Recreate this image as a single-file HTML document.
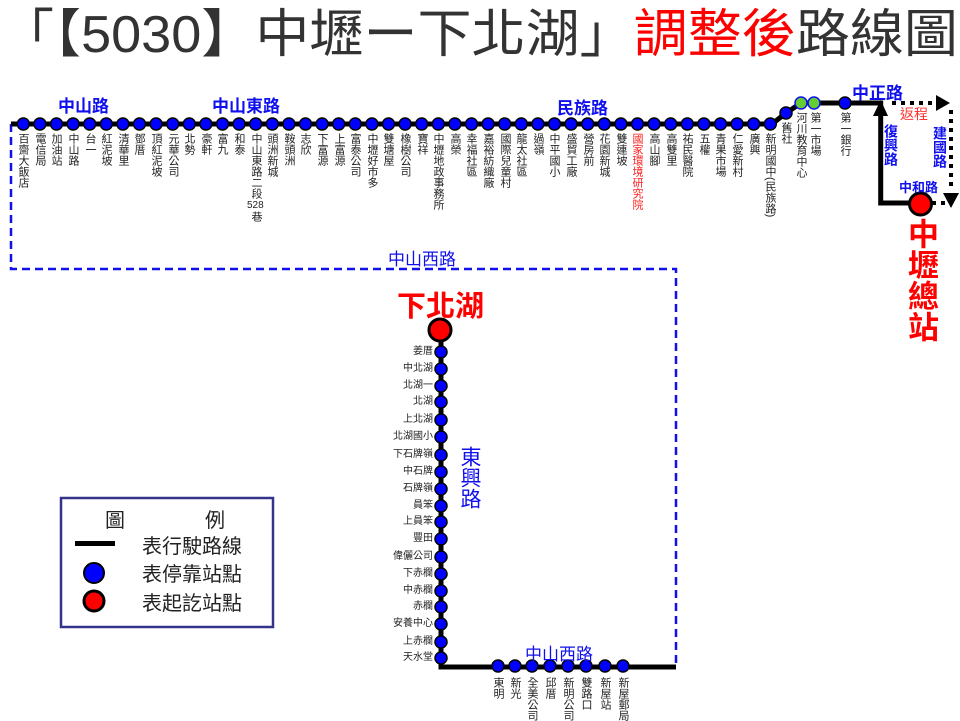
<!DOCTYPE html>
<html><head><meta charset="utf-8"><style>
body{margin:0;width:960px;height:720px;background:#fff;position:relative;overflow:hidden;font-family:"Liberation Sans","Noto Sans CJK TC",sans-serif}
svg{position:absolute;left:0;top:0}
.v{position:absolute;writing-mode:vertical-rl;font-size:11px;line-height:12px;width:12px;color:#222;top:133px;white-space:nowrap}
.r{color:#ff2020}
.h{position:absolute;font-size:10px;color:#222;right:527px;line-height:12px;white-space:nowrap}
.b{position:absolute;color:#1010ee;font-weight:bold;white-space:nowrap}
</style></head><body>
<svg width="960" height="720">
<text x="0" y="52" font-size="52" fill="#333" textLength="958" lengthAdjust="spacingAndGlyphs" font-family="Liberation Sans, Noto Sans CJK TC, sans-serif">「【5030】中壢ー下北湖」<tspan fill="#f00">調整後</tspan>路線圖</text>
<g stroke="#1010ee" stroke-width="2.5" stroke-dasharray="8,5" fill="none">
<path d="M11 124 V269 H676 V667"/>
</g>
<g stroke="#000" stroke-width="5" fill="none">
<path d="M11 124 H772 L786 113 L801 103 H880.7 V203 H920"/>
<path d="M441 330 V667 H676"/>
</g>
<polygon points="880.7,100 873,116 888,116" fill="#000"/>
<g stroke="#000" stroke-width="4" stroke-dasharray="4,5" fill="none">
<path d="M892 103 H940"/><path d="M951 110 V190"/><path d="M932 203 H950"/>
</g>
<polygon points="950,103 936,95 936,111" fill="#000"/>
<polygon points="951,208 943,193 959,193" fill="#000"/>
<g fill="#0000ff" stroke="#000" stroke-width="1.5">
<circle cx="23.3" cy="124" r="6"/><circle cx="39.9" cy="124" r="6"/><circle cx="56.5" cy="124" r="6"/><circle cx="73.1" cy="124" r="6"/><circle cx="89.7" cy="124" r="6"/><circle cx="106.3" cy="124" r="6"/><circle cx="122.9" cy="124" r="6"/><circle cx="139.5" cy="124" r="6"/><circle cx="156.1" cy="124" r="6"/><circle cx="172.7" cy="124" r="6"/><circle cx="189.3" cy="124" r="6"/><circle cx="205.9" cy="124" r="6"/><circle cx="222.5" cy="124" r="6"/><circle cx="239.1" cy="124" r="6"/><circle cx="255.7" cy="124" r="6"/><circle cx="272.3" cy="124" r="6"/><circle cx="288.9" cy="124" r="6"/><circle cx="305.5" cy="124" r="6"/><circle cx="322.1" cy="124" r="6"/><circle cx="338.7" cy="124" r="6"/><circle cx="355.3" cy="124" r="6"/><circle cx="371.9" cy="124" r="6"/><circle cx="388.5" cy="124" r="6"/><circle cx="405.1" cy="124" r="6"/><circle cx="421.7" cy="124" r="6"/><circle cx="438.3" cy="124" r="6"/><circle cx="454.9" cy="124" r="6"/><circle cx="471.5" cy="124" r="6"/><circle cx="488.1" cy="124" r="6"/><circle cx="504.7" cy="124" r="6"/><circle cx="521.3" cy="124" r="6"/><circle cx="537.9" cy="124" r="6"/><circle cx="554.5" cy="124" r="6"/><circle cx="571.1" cy="124" r="6"/><circle cx="587.7" cy="124" r="6"/><circle cx="604.3" cy="124" r="6"/><circle cx="620.9" cy="124" r="6"/><circle cx="637.5" cy="124" r="6"/><circle cx="654.1" cy="124" r="6"/><circle cx="670.7" cy="124" r="6"/><circle cx="687.3" cy="124" r="6"/><circle cx="703.9" cy="124" r="6"/><circle cx="720.5" cy="124" r="6"/><circle cx="737.1" cy="124" r="6"/><circle cx="753.7" cy="124" r="6"/><circle cx="770.3" cy="124" r="6"/>
<circle cx="786" cy="113" r="6"/><circle cx="845" cy="103" r="6"/>
<circle cx="441" cy="352" r="6"/><circle cx="441" cy="369" r="6"/><circle cx="441" cy="386" r="6"/><circle cx="441" cy="402" r="6"/><circle cx="441" cy="420" r="6"/><circle cx="441" cy="437" r="6"/><circle cx="441" cy="455" r="6"/><circle cx="441" cy="472" r="6"/><circle cx="441" cy="489" r="6"/><circle cx="441" cy="506" r="6"/><circle cx="441" cy="522" r="6"/><circle cx="441" cy="539" r="6"/><circle cx="441" cy="557" r="6"/><circle cx="441" cy="574" r="6"/><circle cx="441" cy="591" r="6"/><circle cx="441" cy="607" r="6"/><circle cx="441" cy="624" r="6"/><circle cx="441" cy="642" r="6"/><circle cx="441" cy="658" r="6"/>
<circle cx="498" cy="666" r="6"/><circle cx="515" cy="666" r="6"/><circle cx="532" cy="666" r="6"/><circle cx="550" cy="666" r="6"/><circle cx="568" cy="666" r="6"/><circle cx="586" cy="666" r="6"/><circle cx="605" cy="666" r="6"/><circle cx="623" cy="666" r="6"/>
</g>
<g fill="#6c3" stroke="#1010ee" stroke-width="1.5"><circle cx="801" cy="103" r="6"/><circle cx="814" cy="103" r="6"/></g>
<g fill="#f00" stroke="#000" stroke-width="3"><circle cx="920.5" cy="204" r="11"/><circle cx="440" cy="330" r="11"/></g>
<rect x="61" y="498" width="212" height="129" fill="none" stroke="#33338a" stroke-width="2.5"/>
<rect x="75" y="541" width="40" height="5" fill="#000"/>
<circle cx="94" cy="573" r="10" fill="#0000ff" stroke="#000" stroke-width="2"/>
<circle cx="94" cy="601" r="10" fill="#f00" stroke="#000" stroke-width="3"/>
<g font-size="20" fill="#222" font-family="Liberation Sans, Noto Sans CJK TC, sans-serif">
<text x="105" y="527">圖</text><text x="205" y="527">例</text>
<text x="142" y="553">表行駛路線</text><text x="142" y="581">表停靠站點</text><text x="142" y="610">表起訖站點</text>
</g>
</svg>
<div class="b" style="left:58px;top:92px;font-size:17px">中山路</div>
<div class="b" style="left:212px;top:92px;font-size:17px">中山東路</div>
<div class="b" style="left:557px;top:94px;font-size:17px">民族路</div>
<div class="b" style="left:852px;top:79px;font-size:17px">中正路</div>
<div class="b" style="left:388px;top:245px;font-size:17px;font-weight:normal">中山西路</div>
<div class="b" style="left:525px;top:640px;font-size:17px;font-weight:normal">中山西路</div>
<div class="b" style="left:899px;top:177px;font-size:13px">中和路</div>
<div style="position:absolute;left:900px;top:104px;font-size:14px;color:#f33">返程</div>
<div class="b" style="left:883px;top:124px;font-size:14px;writing-mode:vertical-rl;line-height:16px">復興路</div>
<div class="b" style="left:932px;top:126px;font-size:14px;writing-mode:vertical-rl;line-height:16px">建國路</div>
<div class="b" style="left:457px;top:446px;font-size:21px;font-weight:normal;writing-mode:vertical-rl;line-height:24px">東興路</div>
<div style="position:absolute;left:397px;top:283px;font-size:29px;font-weight:bold;color:#f00">下北湖</div>
<div style="position:absolute;left:903px;top:218px;font-size:31px;font-weight:bold;color:#f00;writing-mode:vertical-rl;line-height:34px">中壢總站</div>

<div class="v" style="left:17px">百齋大飯店</div>
<div class="v" style="left:34px">電信局</div>
<div class="v" style="left:50px">加油站</div>
<div class="v" style="left:67px">中山路</div>
<div class="v" style="left:84px">台一</div>
<div class="v" style="left:100px">紅泥坡</div>
<div class="v" style="left:117px">清華里</div>
<div class="v" style="left:133px">鄧厝</div>
<div class="v" style="left:150px">頂紅泥坡</div>
<div class="v" style="left:167px">元華公司</div>
<div class="v" style="left:183px">北勢</div>
<div class="v" style="left:200px">豪軒</div>
<div class="v" style="left:216px">富九</div>
<div class="v" style="left:233px">和泰</div>
<div class="v" style="left:250px">中山東路二段</div>
<div style="position:absolute;left:247px;top:200px;font-size:10px;color:#222">528</div>
<div class="v" style="left:250px;top:211px">巷</div>
<div class="v" style="left:266px">頭洲新城</div>
<div class="v" style="left:283px">鞍頭洲</div>
<div class="v" style="left:299px">志欣</div>
<div class="v" style="left:316px">下富源</div>
<div class="v" style="left:333px">上富源</div>
<div class="v" style="left:349px">富泰公司</div>
<div class="v" style="left:366px">中壢好市多</div>
<div class="v" style="left:382px">雙塘屋</div>
<div class="v" style="left:399px">橡樹公司</div>
<div class="v" style="left:416px">寶祥</div>
<div class="v" style="left:432px">中壢地政事務所</div>
<div class="v" style="left:449px">高榮</div>
<div class="v" style="left:465px">幸福社區</div>
<div class="v" style="left:482px">嘉裕紡織廠</div>
<div class="v" style="left:499px">國際兒童村</div>
<div class="v" style="left:515px">龍太社區</div>
<div class="v" style="left:532px">過嶺</div>
<div class="v" style="left:548px">中平國小</div>
<div class="v" style="left:565px">盛貿工廠</div>
<div class="v" style="left:582px">營房前</div>
<div class="v" style="left:598px">花園新城</div>
<div class="v" style="left:615px">雙連坡</div>
<div class="v r" style="left:631px">國家環境研究院</div>
<div class="v" style="left:648px">高山腳</div>
<div class="v" style="left:665px">高雙里</div>
<div class="v" style="left:681px">祐民醫院</div>
<div class="v" style="left:698px">五權</div>
<div class="v" style="left:714px">青果市場</div>
<div class="v" style="left:731px">仁愛新村</div>
<div class="v" style="left:748px">廣興</div>
<div class="v" style="left:764px">新明國中(民族路)</div>
<div class="v" style="left:780px;top:122px">舊社</div>
<div class="v" style="left:795px;top:112px">河川教育中心</div>
<div class="v" style="left:809px;top:112px">第一市場</div>
<div class="v" style="left:839px;top:112px">第一銀行</div>

<div class="h" style="top:346px">姜厝</div>
<div class="h" style="top:363px">中北湖</div>
<div class="h" style="top:380px">北湖一</div>
<div class="h" style="top:396px">北湖</div>
<div class="h" style="top:414px">上北湖</div>
<div class="h" style="top:431px">北湖國小</div>
<div class="h" style="top:449px">下石牌嶺</div>
<div class="h" style="top:466px">中石牌</div>
<div class="h" style="top:483px">石牌嶺</div>
<div class="h" style="top:500px">員笨</div>
<div class="h" style="top:516px">上員笨</div>
<div class="h" style="top:533px">豐田</div>
<div class="h" style="top:551px">偉儷公司</div>
<div class="h" style="top:568px">下赤欄</div>
<div class="h" style="top:585px">中赤欄</div>
<div class="h" style="top:601px">赤欄</div>
<div class="h" style="top:618px">安養中心</div>
<div class="h" style="top:636px">上赤欄</div>
<div class="h" style="top:652px">天水堂</div>

<div class="v" style="left:492px;top:677px">東明</div>
<div class="v" style="left:509px;top:677px">新光</div>
<div class="v" style="left:526px;top:677px">全美公司</div>
<div class="v" style="left:544px;top:677px">邱厝</div>
<div class="v" style="left:562px;top:677px">新明公司</div>
<div class="v" style="left:580px;top:677px">雙路口</div>
<div class="v" style="left:599px;top:677px">新屋站</div>
<div class="v" style="left:617px;top:677px">新屋郵局</div>
</body></html>
